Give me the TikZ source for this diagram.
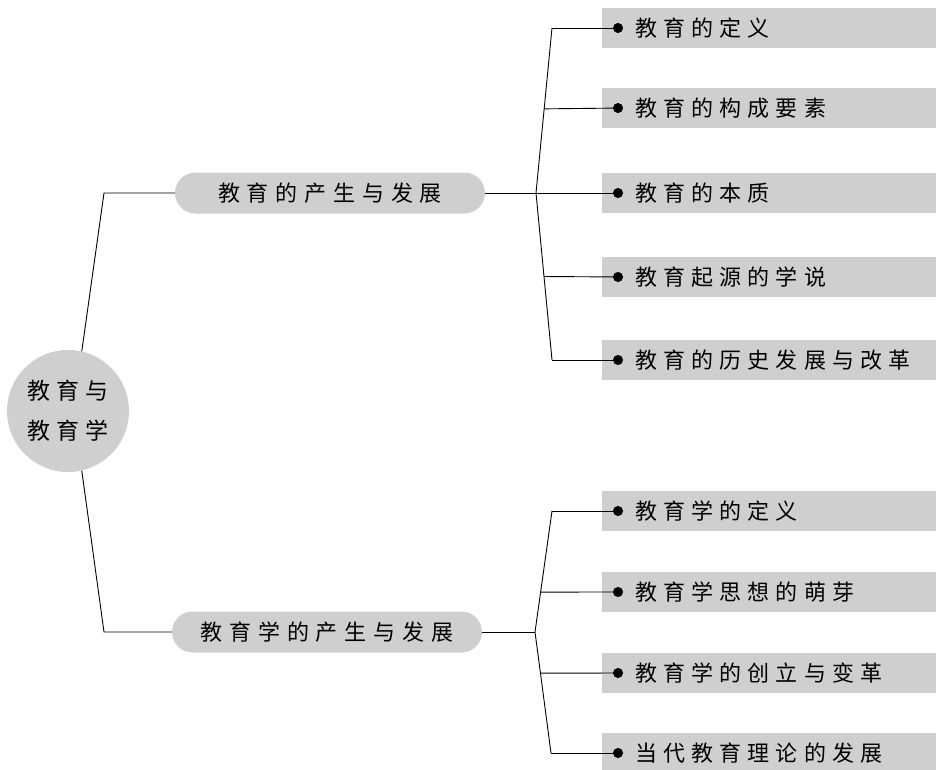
\documentclass[tikz,border=0pt]{standalone}
\usepackage{fontspec}
\usetikzlibrary{arrows.meta,shapes.misc,calc}
\newfontfamily\cjkroot[LetterSpace=26]{Noto Sans CJK SC}
\newfontfamily\cjktopic[LetterSpace=31]{Noto Sans CJK SC}
\newfontfamily\cjkitem[LetterSpace=28]{Noto Sans CJK SC}
\definecolor{shade}{gray}{0.81}

\begin{document}
\begin{tikzpicture}[x=1pt,y=-1pt,
	root/.style={circle,fill=shade,minimum size=122pt,inner sep=0pt,align=center,font=\cjkroot\fontsize{23}{40}\selectfont},
	topic/.style={rounded rectangle,fill=shade,minimum width=310pt,minimum height=41pt,inner sep=0pt,font=\cjktopic\fontsize{22}{26}\selectfont},
	item/.style={anchor=west,fill=shade,minimum height=40pt,text width=335pt,inner sep=0pt,align=left,font=\cjkitem\fontsize{22}{26}\selectfont,execute at begin node={\hspace*{33pt}}},
	link/.style={line width=0.9pt},
	dot/.style={-{Circle[length=10pt]}}]
	\useasboundingbox (0,0) rectangle (936,769);

	\node[root] (root) at (68,411) {教育与\\教育学};
	\node[topic] (t1) at (330,193) {教育的产生与发展};
	\node[topic] (t2) at (327,632) {教育学的产生与发展};

	\node[item] (i1) at (602,28) {教育的定义};
	\node[item] (i2) at (602,108) {教育的构成要素};
	\node[item] (i3) at (602,193) {教育的本质};
	\node[item] (i4) at (602,277) {教育起源的学说};
	\node[item] (i5) at (602,360) {教育的历史发展与改革};

	\node[item] (i6) at (602,511) {教育学的定义};
	\node[item] (i7) at (602,592) {教育学思想的萌芽};
	\node[item] (i8) at (602,673) {教育学的创立与变革};
	\node[item] (i9) at (602,753) {当代教育理论的发展};

	% root to the two topics
	\coordinate (c1) at (104,193);
	\coordinate (c2) at (104,632);
	\draw[link] (root.77) -- (c1) -- (t1.west);
	\draw[link] (root.-77) -- (c2) -- (t2.west);

	% first bracket
	\coordinate (k1) at (536,193);
	\coordinate (k1a) at (552,28);
	\coordinate (k1b) at (552,360);
	\draw[link] (t1.east) -- (k1);
	\draw[link] (k1a) -- (k1) -- (k1b);
	\draw[link,dot] (k1a) -- ([xshift=21pt]i1.west);
	\draw[link,dot] ($(k1)!0.51!(k1a)$) -- ([xshift=21pt]i2.west);
	\draw[link,dot] (k1) -- ([xshift=21pt]i3.west);
	\draw[link,dot] ($(k1)!0.5!(k1b)$) -- ([xshift=21pt]i4.west);
	\draw[link,dot] (k1b) -- ([xshift=21pt]i5.west);

	% second bracket
	\coordinate (k2) at (535,632);
	\coordinate (k2a) at (552,511);
	\coordinate (k2b) at (551,753);
	\draw[link] (t2.east) -- (k2);
	\draw[link] (k2a) -- (k2) -- (k2b);
	\draw[link,dot] (k2a) -- ([xshift=21pt]i6.west);
	\draw[link,dot] ($(k2)!0.33!(k2a)$) -- ([xshift=21pt]i7.west);
	\draw[link,dot] ($(k2)!0.34!(k2b)$) -- ([xshift=21pt]i8.west);
	\draw[link,dot] (k2b) -- ([xshift=21pt]i9.west);
\end{tikzpicture}
\end{document}
